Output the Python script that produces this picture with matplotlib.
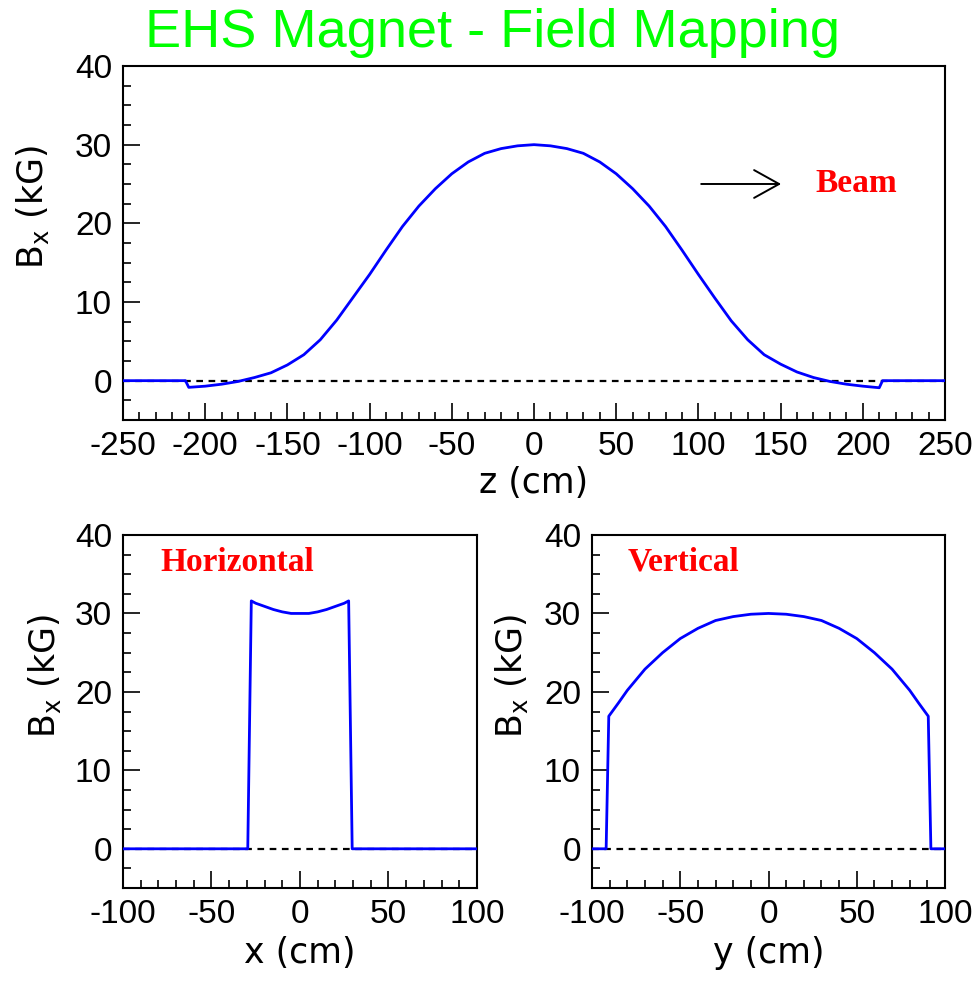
import matplotlib.pyplot as plt
from matplotlib.ticker import MultipleLocator

# Longitudinal field profile along the beam (z)
z_cm = [-250, -212, -210, -200, -190, -180, -170, -160, -150, -140, -130, -120,
        -110, -100, -90, -80, -70, -60, -50, -40, -30, -20, -10, 0,
        10, 20, 30, 40, 50, 60, 70, 80, 90, 100, 110, 120,
        130, 140, 150, 160, 170, 180, 190, 200, 210, 212, 250]
bx_z = [0.0, 0.0, -0.85, -0.7, -0.45, -0.1, 0.4, 1.0, 2.0, 3.3, 5.2, 7.7,
        10.6, 13.5, 16.6, 19.6, 22.2, 24.4, 26.3, 27.8, 28.9, 29.5, 29.85, 30.0,
        29.85, 29.5, 28.9, 27.8, 26.3, 24.4, 22.2, 19.6, 16.6, 13.5, 10.5, 7.6,
        5.2, 3.3, 2.1, 1.1, 0.4, -0.1, -0.45, -0.7, -0.9, 0.0, 0.0]

# Horizontal scan (x)
x_cm = [-100, -29.5, -27.5, -25, -20, -15, -10, -5, 0, 5, 10, 15, 20, 25, 27.5, 29.5, 100]
bx_x = [0.0, 0.0, 31.6, 31.3, 30.9, 30.5, 30.2, 30.0, 30.0, 30.0, 30.2, 30.5, 30.9, 31.3, 31.6, 0.0, 0.0]

# Vertical scan (y)
y_cm = [-100, -92, -90.5, -85, -80, -70, -60, -50, -40, -30, -20, -10, 0,
        10, 20, 30, 40, 50, 60, 70, 80, 85, 90.5, 92, 100]
bx_y = [0.0, 0.0, 16.9, 18.6, 20.2, 22.9, 25.0, 26.8, 28.1, 29.1, 29.6, 29.9, 30.0,
        29.9, 29.6, 29.1, 28.1, 26.8, 25.0, 22.9, 20.2, 18.6, 16.9, 0.0, 0.0]

plt.rcParams['font.family'] = ['Liberation Sans', 'DejaVu Sans']
plt.rcParams['mathtext.default'] = 'regular'
plt.rcParams['axes.unicode_minus'] = False

fig = plt.figure(figsize=(9.8, 9.82), dpi=100)

ylab = r'B$_{\mathregular{x}}$ (kG)'
label_font = dict(family='DejaVu Sans', fontsize=25)


def style(ax, xmin, xmax, xlabel, xlab_y, ylab_x):
    ax.set_xlim(xmin, xmax)
    ax.set_ylim(-5, 40)
    ax.xaxis.set_major_locator(MultipleLocator(50))
    ax.xaxis.set_minor_locator(MultipleLocator(10))
    ax.yaxis.set_major_locator(MultipleLocator(10))
    ax.yaxis.set_minor_locator(MultipleLocator(2.5))
    ax.tick_params(which='both', direction='in', top=False, right=False,
                   width=1.2, labelsize=24)
    ax.tick_params(which='major', length=12)
    ax.tick_params(which='minor', length=6)
    ax.tick_params(axis='x', pad=8)
    ax.tick_params(axis='y', pad=8)
    for s in ax.spines.values():
        s.set_linewidth(1.5)
    ax.set_xlabel(xlabel, **label_font)
    ax.set_ylabel(ylab, **label_font)
    ax.xaxis.set_label_coords(0.5, xlab_y)
    ax.yaxis.set_label_coords(ylab_x, 0.6)
    ax.axhline(0, color='black', lw=1.6, ls=(0, (3, 2.5)), zorder=1)


ax1 = fig.add_axes([0.1255, 0.5723, 0.8388, 0.3605])
style(ax1, -250, 250, 'z (cm)', -0.13, -0.087)
ax1.plot(z_cm, bx_z, color='blue', lw=2, zorder=3)
ax1.annotate('', xy=(152, 25), xytext=(100, 25),
             arrowprops=dict(arrowstyle='->,head_length=0.9,head_width=0.5',
                             mutation_scale=20, lw=1.4, color='black'))
ax1.text(171, 25, 'Beam', color='red', fontsize=24, fontweight='bold',
         family='Liberation Serif', va='center', ha='left')

ax2 = fig.add_axes([0.1255, 0.0957, 0.3612, 0.3595])
style(ax2, -100, 100, 'x (cm)', -0.135, -0.17)
ax2.plot(x_cm, bx_x, color='blue', lw=2, zorder=3)
ax2.text(-79, 36.5, 'Horizontal', color='red', fontsize=24, fontweight='bold',
         family='Liberation Serif', va='center', ha='left')

ax3 = fig.add_axes([0.6041, 0.0957, 0.3602, 0.3595])
style(ax3, -100, 100, 'y (cm)', -0.135, -0.175)
ax3.plot(y_cm, bx_y, color='blue', lw=2, zorder=3)
ax3.text(-79.6, 36.5, 'Vertical', color='red', fontsize=24, fontweight='bold',
         family='Liberation Serif', va='center', ha='left')

fig.text(0.503, 0.952, 'EHS Magnet - Field Mapping', color='#00ff00',
         fontsize=39, ha='center', va='baseline')

fig.savefig('out.png', dpi=100)
